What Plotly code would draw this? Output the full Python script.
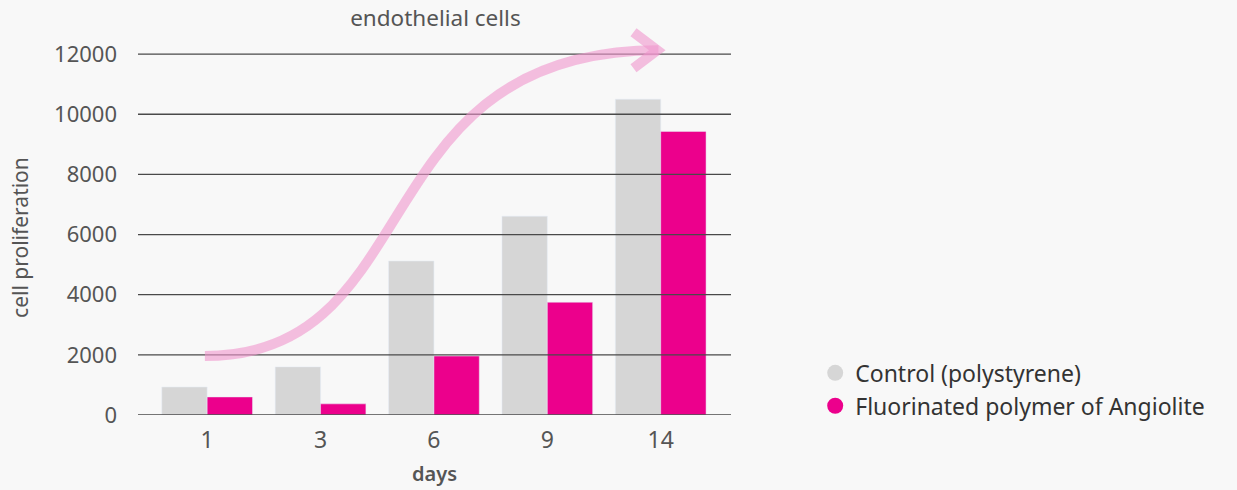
import plotly.graph_objects as go

days = ["1", "3", "6", "9", "14"]
control = [930, 1600, 5120, 6610, 10500]
angiolite = [600, 370, 1960, 3750, 9430]
y_ticks = [0, 2000, 4000, 6000, 8000, 10000, 12000]

GRAY = "#d6d6d6"
PINK = "#ec008c"
TXT = "#555555"
FONT = "Noto Sans"
ARROW = "rgba(240,150,205,0.6)"

xpos = list(range(len(days)))

fig = go.Figure()
fig.add_trace(go.Bar(x=xpos, y=control, marker_color=GRAY, showlegend=False,
                     name="Control (polystyrene)"))
fig.add_trace(go.Bar(x=xpos, y=angiolite, marker_color=PINK, showlegend=False,
                     name="Fluorinated polymer of Angiolite"))
# legend entries with circle markers
fig.add_trace(go.Scatter(x=[None], y=[None], mode="markers",
                         marker=dict(color=GRAY, size=20, symbol="circle"),
                         name="Control (polystyrene)"))
fig.add_trace(go.Scatter(x=[None], y=[None], mode="markers",
                         marker=dict(color=PINK, size=20, symbol="circle"),
                         name="Fluorinated polymer of Angiolite"))

shapes = []
for v in y_ticks:
    shapes.append(dict(type="line", xref="paper", yref="y", x0=0, x1=1, y0=v, y1=v,
                       line=dict(color="#4a4a4a", width=1.3), layer="above"))

# decorative curved arrow
shapes.append(dict(type="path", xref="x", yref="y",
                   path="M -0.02,1960 C 1.97,1960 1.35,12126 3.98,12126",
                   line=dict(color=ARROW, width=10), layer="above"))
shapes.append(dict(type="path", xref="x", yref="y",
                   path="M 3.76,12724 L 3.97,12126 L 3.76,11528",
                   line=dict(color=ARROW, width=10), layer="above"))

fig.update_layout(
    width=1237, height=490,
    margin=dict(l=138, r=506, t=21, b=75),
    paper_bgcolor="#f8f8f8", plot_bgcolor="rgba(0,0,0,0)",
    barmode="group", bargap=0.2, bargroupgap=0,
    font=dict(family=FONT, color=TXT),
    shapes=shapes,
    title=dict(text="endothelial cells", x=0.352, xanchor="center", y=0.963, yanchor="middle",
               font=dict(size=22.5, color=TXT, family=FONT)),
    xaxis=dict(range=[-0.61, 4.62], tickvals=xpos, ticktext=days, showgrid=False,
               zeroline=False, showline=False, ticks="", ticklabelstandoff=9,
               automargin=False,
               tickfont=dict(size=23, color=TXT),
               title=dict(text="days", font=dict(size=20, color=TXT, weight=600), standoff=12)),
    yaxis=dict(range=[0, 13100], tickvals=y_ticks, ticktext=[str(v) for v in y_ticks],
               showgrid=False, zeroline=False, automargin=False,
               showline=False, ticks="", ticklabelstandoff=20,
               tickfont=dict(size=22, color=TXT)),
    annotations=[dict(text="cell proliferation", textangle=-90, xref="paper", yref="paper",
                      x=-0.199, y=0.452, xanchor="center", yanchor="middle", showarrow=False,
                      font=dict(size=21, color=TXT, family=FONT))],
    legend=dict(x=1.142, y=0.065, xanchor="left", yanchor="middle",
                font=dict(size=23, color="#333333"), bgcolor="rgba(0,0,0,0)",
                tracegroupgap=0),
)

fig.write_html("out.html", config={"displayModeBar": False},
               post_script="document.body.style.margin='0';document.body.style.padding='0';"
                           "document.body.style.overflow='hidden';")
